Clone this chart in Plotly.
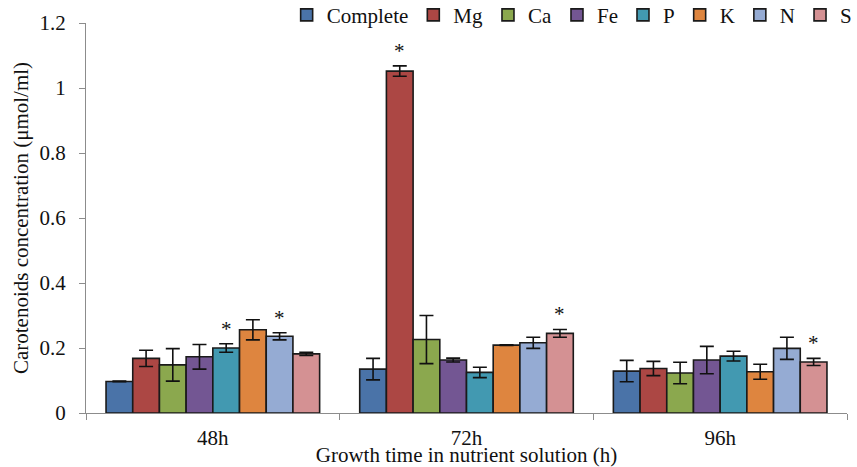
import plotly.graph_objects as go

categories = ["48h", "72h", "96h"]
series_names = ["Complete", "Mg", "Ca", "Fe", "P", "K", "N", "S"]

complete_vals = [0.097, 0.135, 0.129]
mg_vals = [0.168, 1.052, 0.137]
ca_vals = [0.148, 0.226, 0.123]
fe_vals = [0.173, 0.163, 0.163]
p_vals = [0.200, 0.125, 0.175]
k_vals = [0.256, 0.209, 0.127]
n_vals = [0.236, 0.216, 0.199]
s_vals = [0.182, 0.245, 0.157]

complete_err = [0.001, 0.033, 0.033]
mg_err = [0.025, 0.016, 0.022]
ca_err = [0.050, 0.074, 0.033]
fe_err = [0.038, 0.006, 0.042]
p_err = [0.013, 0.016, 0.015]
k_err = [0.031, 0.001, 0.023]
n_err = [0.011, 0.017, 0.034]
s_err = [0.005, 0.012, 0.011]

# significance markers: (series, category)
significant = [("P", "48h"), ("N", "48h"), ("Mg", "72h"), ("S", "72h"), ("S", "96h")]

values = [complete_vals, mg_vals, ca_vals, fe_vals, p_vals, k_vals, n_vals, s_vals]
errors = [complete_err, mg_err, ca_err, fe_err, p_err, k_err, n_err, s_err]
colors = ["#4A73A8", "#AC4744", "#8BA84E", "#735693", "#4299B1", "#DE853F", "#95ABD3", "#D49193"]

FONT = "Liberation Serif"

fig = go.Figure()
for name, vals, errs, col in zip(series_names, values, errors, colors):
    fig.add_trace(go.Bar(
        name=name, x=categories, y=vals,
        marker=dict(color=col, line=dict(color="#1a1a1a", width=1.6)),
        error_y=dict(type="data", array=errs, visible=True, color="#111111", thickness=1.6, width=7),
    ))

bargap = 0.158
plot_w = 857 - 86 - 10
cat_px = plot_w / len(categories)
bar_px = cat_px * (1 - bargap) / len(series_names)

annotations = []
for sname, cat in significant:
    j = series_names.index(sname)
    i = categories.index(cat)
    top = values[j][i] + errors[j][i]
    annotations.append(dict(
        x=cat, y=top, xref="x", yref="y", text="*", showarrow=False,
        xshift=(j - (len(series_names) - 1) / 2) * bar_px, yshift=15,
        font=dict(family=FONT, size=21, color="#111111"),
    ))

fig.update_layout(
    width=857, height=467,
    margin=dict(l=86, r=10, t=23, b=54, autoexpand=False),
    paper_bgcolor="white", plot_bgcolor="white",
    barmode="group", bargap=bargap, bargroupgap=0,
    font=dict(family=FONT, size=21, color="#111111"),
    showlegend=True,
    legend=dict(orientation="h", x=1.014, xanchor="right", y=1.02, yanchor="middle",
                font=dict(family=FONT, size=21), itemwidth=30, traceorder="normal",
                bgcolor="rgba(0,0,0,0)", tracegroupgap=0),
    annotations=annotations,
    xaxis=dict(
        automargin=False,
        showline=True, linecolor="#8c8c8c", linewidth=1.2,
        ticks="outside", tickson="boundaries", ticklen=6, tickcolor="#8c8c8c",
        showgrid=False, tickfont=dict(family=FONT, size=21), ticklabelstandoff=6,
        title=dict(text="Growth time in nutrient solution (h)", font=dict(family=FONT, size=21), standoff=3),
    ),
    yaxis=dict(
        automargin=False,
        range=[0, 1.2], dtick=0.2, showline=True, linecolor="#8c8c8c", linewidth=1.2,
        ticks="outside", ticklen=6, tickcolor="#8c8c8c", showgrid=False, zeroline=False,
        tickfont=dict(family=FONT, size=21), ticklabelstandoff=9,
        title=dict(text="Carotenoids concentration (μmol/ml)", font=dict(family=FONT, size=21), standoff=5),
    ),
)

fig.write_html("out.html", config={"displayModeBar": False},
               post_script="document.body.style.margin='0';")
